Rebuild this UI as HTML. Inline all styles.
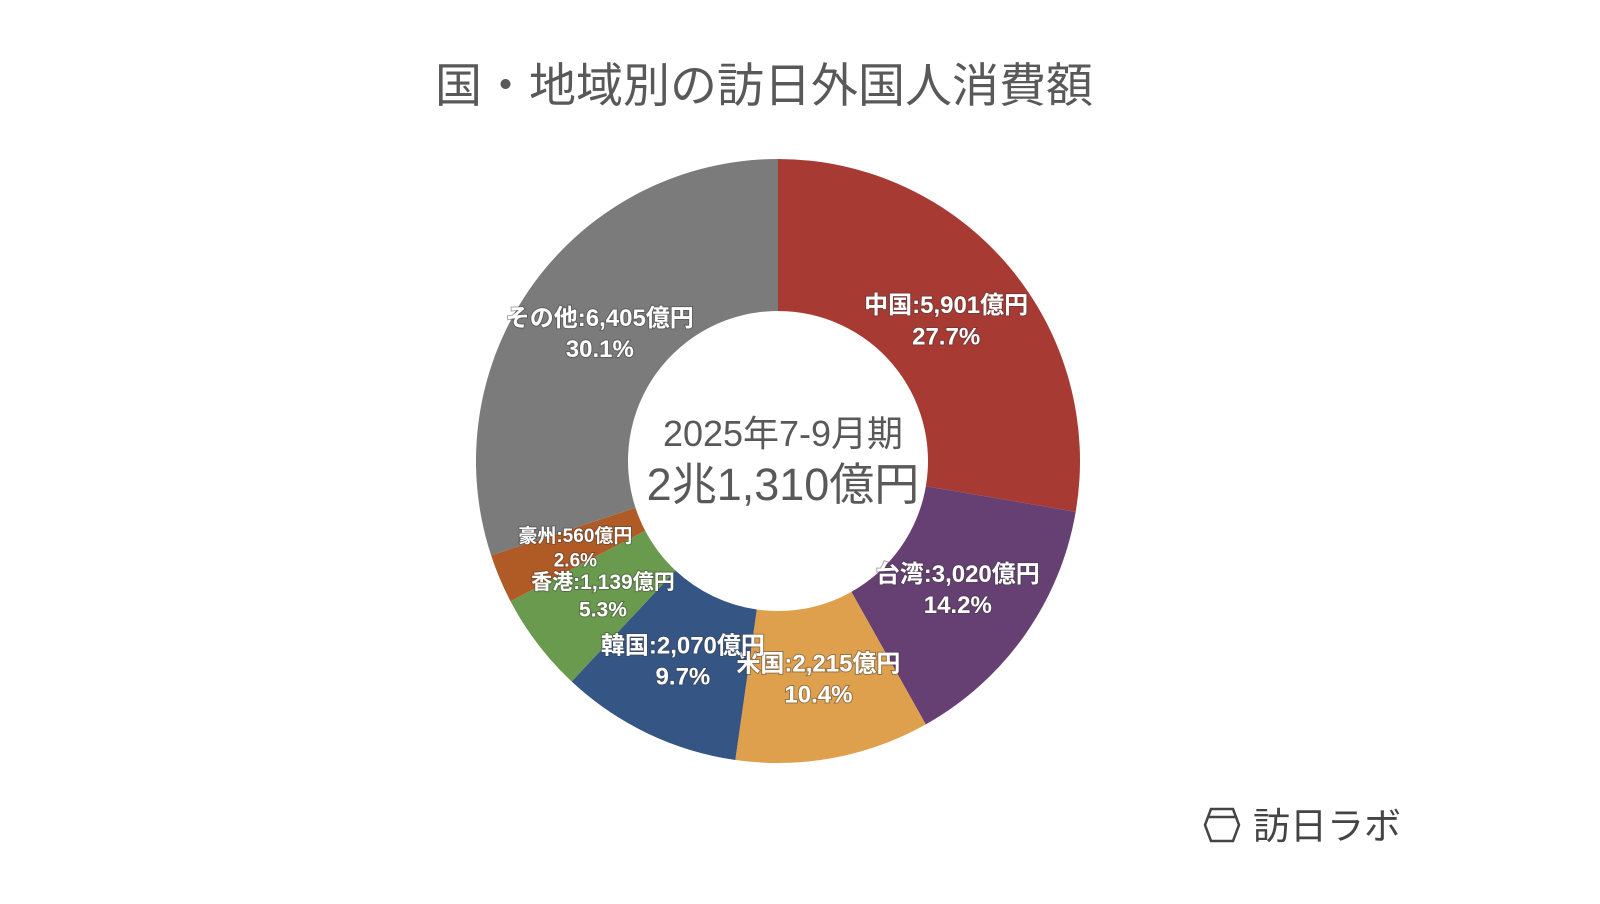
<!DOCTYPE html>
<html><head><meta charset="utf-8">
<style>
html,body{margin:0;padding:0;background:#fff;}
body{width:1600px;height:899px;overflow:hidden;font-family:"Liberation Sans","Noto Sans CJK JP",sans-serif;}
</style></head>
<body>
<svg id="chart" width="1600" height="899" xmlns="http://www.w3.org/2000/svg">
<text x="764" y="102" text-anchor="middle" font-family="Liberation Sans, Noto Sans CJK JP, sans-serif" font-size="47" fill="#595959">国・地域別の訪日外国人消費額</text>
<g id="slices"></g>
<g id="labels"></g>
<text x="783" y="446" text-anchor="middle" font-family="Liberation Sans, Noto Sans CJK JP, sans-serif" font-size="36" fill="#595959">2025年7-9月期</text>
<text x="783" y="500" text-anchor="middle" font-family="Liberation Sans, Noto Sans CJK JP, sans-serif" font-size="45" fill="#595959">2兆1,310億円</text>
<g>
<polygon points="1205,825 1211,809 1233,809 1239,825 1233,841 1211,841" fill="none" stroke="#444" stroke-width="2.5"/>
<line x1="1208" y1="817" x2="1236" y2="817" stroke="#444" stroke-width="2.5"/>
<text x="1253" y="839" font-family="Liberation Sans, Noto Sans CJK JP, sans-serif" font-size="37" fill="#444">訪日ラボ</text>
</g>
</svg>
<script>
const categories = ["中国","台湾","米国","韓国","香港","豪州","その他"];
const values = [5901,3020,2215,2070,1139,560,6405];
const percents = ["27.7%","14.2%","10.4%","9.7%","5.3%","2.6%","30.1%"];
const valueLabels = ["5,901","3,020","2,215","2,070","1,139","560","6,405"];
const colors = ["#a83a34","#663f73","#dfa04e","#355585","#6a9a4e","#b05a25","#7b7b7b"];
const cx=778, cy=461, R=302, r=150, LR=220;
const NS="http://www.w3.org/2000/svg";
const total = values.reduce((a,b)=>a+b,0);
function pt(a,rad){return [cx+rad*Math.sin(a), cy-rad*Math.cos(a)];}
const sg=document.getElementById('slices'), lg=document.getElementById('labels');
let acc=0;
values.forEach((v,i)=>{
  const a0=acc/total*2*Math.PI; acc+=v; const a1=acc/total*2*Math.PI;
  const large=(a1-a0)>Math.PI?1:0;
  const p0=pt(a0,R),p1=pt(a1,R),q1=pt(a1,r),q0=pt(a0,r);
  const p=document.createElementNS(NS,'path');
  p.setAttribute('d',`M${p0} A${R},${R} 0 ${large} 1 ${p1} L${q1} A${r},${r} 0 ${large} 0 ${q0} Z`);
  p.setAttribute('fill',colors[i]);
  
  
  sg.appendChild(p);
  const m=(a0+a1)/2; const [lx,ly]=pt(m,LR);
  const fs = v<800?19:(v<1500?21:24);
  const t=document.createElementNS(NS,'text');
  
  
  t.setAttribute('text-anchor','middle');
  t.setAttribute('font-size',fs);
  t.setAttribute('font-weight','bold');
  t.setAttribute('fill','#fff');
  t.setAttribute('font-family','Liberation Sans, Noto Sans CJK JP, sans-serif');
  t.setAttribute('style','paint-order:stroke;stroke:rgba(60,60,60,0.45);stroke-width:2px;');
  const s1=document.createElementNS(NS,'tspan');
  s1.setAttribute('x',lx); s1.setAttribute('y',ly-fs*0.25);
  s1.textContent=categories[i]+':'+valueLabels[i]+'億円';
  const s2=document.createElementNS(NS,'tspan');
  s2.setAttribute('x',lx); s2.setAttribute('y',ly-fs*0.25+fs*1.3);
  s2.textContent=percents[i];
  t.appendChild(s1); t.appendChild(s2); lg.appendChild(t);
});
</script>
</body></html>
